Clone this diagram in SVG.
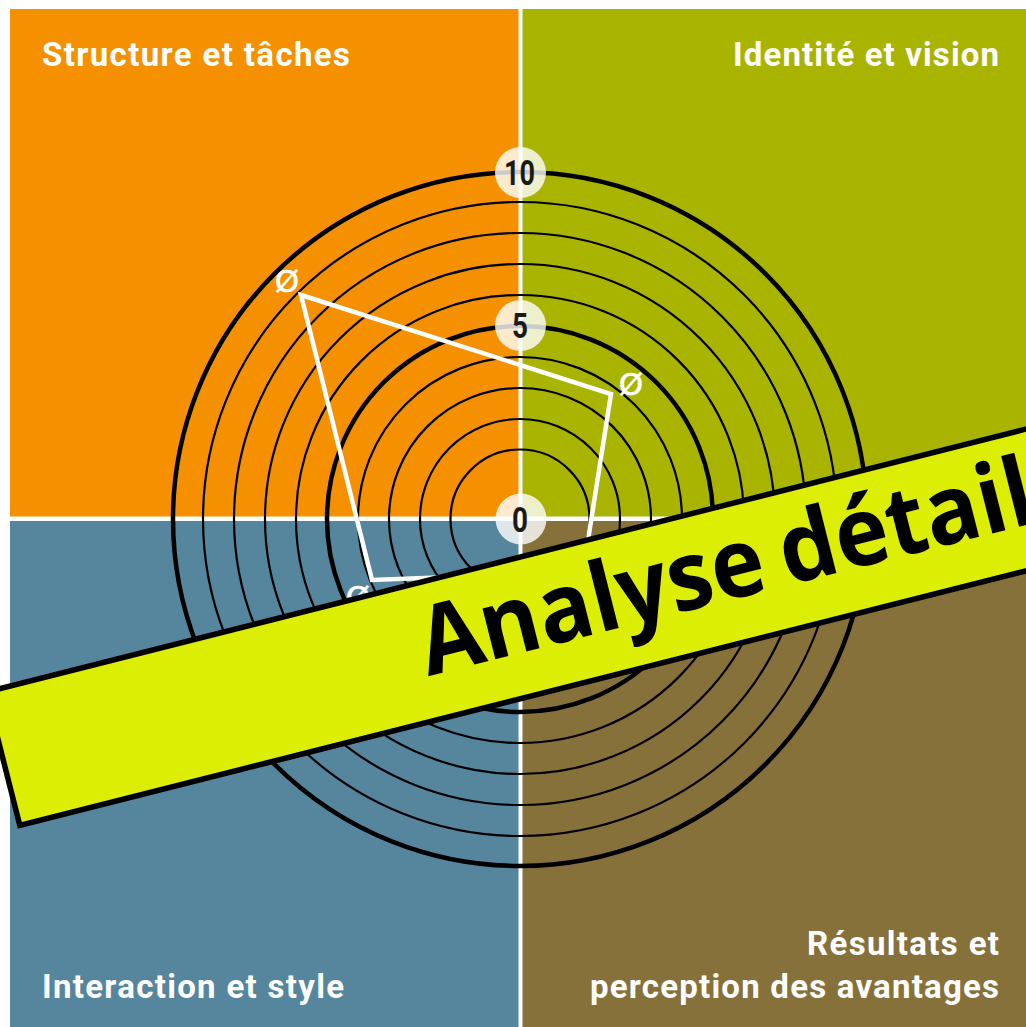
<svg xmlns="http://www.w3.org/2000/svg" width="1026" height="1027" viewBox="0 0 1026 1027">
<style>
.lab{font-family:"Roboto","Liberation Sans",sans-serif;font-weight:700;font-size:33px;fill:#fff}
.num{font-family:"Roboto","Liberation Sans",sans-serif;font-weight:700;font-size:35px;fill:#1a1a1a;text-anchor:middle}
.r{fill:none;stroke:#000;stroke-width:2.2}
.b{fill:none;stroke:#000;stroke-width:4.500}
.c{fill:#fff;fill-opacity:.8}
.m{font-family:"DejaVu Sans",sans-serif;font-size:31px;fill:#fff;stroke:#fff;stroke-width:.6;text-anchor:middle}
</style>
<rect width="1026" height="1027" fill="#fff"/>
<g id="quadrants">
<rect x="10" y="9" width="508.500" height="507.500" fill="#F59100"/>
<rect x="522.500" y="9" width="503.500" height="507.500" fill="#A9B400"/>
<rect x="10" y="521" width="508.500" height="506" fill="#55869D"/>
<rect x="522.500" y="521" width="503.500" height="506" fill="#86713A"/>
</g>
<g id="rings">
<circle class="r" cx="520" cy="519" r="69.500"/>
<circle class="r" cx="520" cy="519" r="100"/>
<circle class="r" cx="520" cy="519" r="131"/>
<circle class="r" cx="520" cy="519" r="162"/>
<circle class="b" cx="520" cy="519" r="193"/>
<circle class="r" cx="520" cy="519" r="224"/>
<circle class="r" cx="520" cy="519" r="255"/>
<circle class="r" cx="520" cy="519" r="286"/>
<circle class="r" cx="520" cy="519" r="317"/>
<circle class="b" cx="520" cy="519" r="347"/>
</g>
<g id="connectors">
<polygon points="301,295 611,394 583,572 372,580" fill="none" stroke="#fff" stroke-width="4.500"/>
</g>
<g id="scale-10"><circle class="c" cx="520.500" cy="172.500" r="25.500"/><text class="num" x="519.500" y="185" textLength="31" lengthAdjust="spacingAndGlyphs">10</text></g>
<g id="scale-5"><circle class="c" cx="520.500" cy="325.500" r="25.500"/><text class="num" x="520" y="337.500" textLength="16" lengthAdjust="spacingAndGlyphs">5</text></g>
<g id="scale-0"><circle class="c" cx="521" cy="519" r="25.500"/><text class="num" x="520" y="532" textLength="16" lengthAdjust="spacingAndGlyphs">0</text></g>
<g id="mark-1"><text class="m" x="287" y="292">Ø</text></g>
<g id="mark-2"><text class="m" x="631" y="394.500">Ø</text></g>
<g id="mark-3"><text class="m" x="358" y="608">Ø</text></g>
<g id="label-structure"><text class="lab" x="42" y="66" textLength="308">Structure et tâches</text></g>
<g id="label-identite"><text class="lab" x="733" y="66" textLength="266">Identité et vision</text></g>
<g id="label-interaction"><text class="lab" x="42" y="998" textLength="302">Interaction et style</text></g>
<g id="label-resultats"><text class="lab" x="807" y="955" textLength="192">Résultats et</text><text class="lab" x="590" y="998" textLength="409">perception des avantages</text></g>
<g id="banner" transform="translate(18,828.500) rotate(-14.200)">
<rect x="2.500" y="-140" width="1300" height="137.500" fill="#DDEE05" stroke="#000" stroke-width="5.500"/>
<text transform="translate(435,-47) scale(.94,1)" word-spacing="-6" font-family="'Open Sans','Noto Sans',sans-serif" font-weight="700" font-size="96" fill="#000">Analyse détaillée</text>
</g>
</svg>
